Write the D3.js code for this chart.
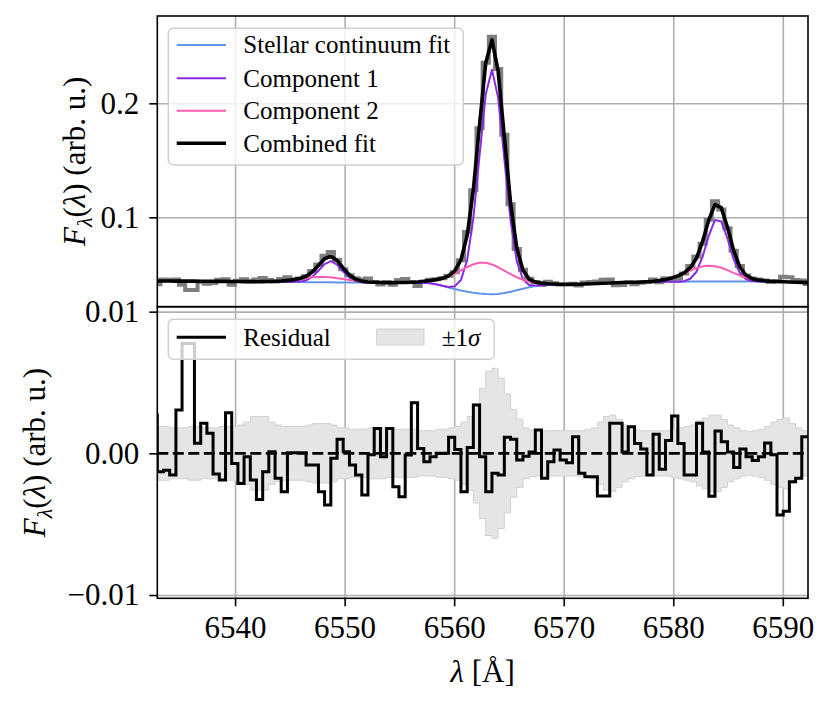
<!DOCTYPE html>
<html>
<head>
<meta charset="utf-8">
<script src="https://cdn.jsdelivr.net/npm/d3@7"></script>
<style>
  body { margin: 0; background: #fff; }
  svg { display: block; font-family: "Liberation Serif", "Times New Roman", serif; }
</style>
</head>
<body>
<div id="chart"></div>
<script>
// wavelength grid of the spectrum (Angstrom)
const lambda = [
  6532.90, 6533.47, 6534.03, 6534.60, 6535.16, 6535.73, 6536.29, 6536.86, 6537.43, 6537.99,
  6538.56, 6539.13, 6539.69, 6540.26, 6540.82, 6541.39, 6541.95, 6542.52, 6543.08, 6543.65,
  6544.21, 6544.78, 6545.35, 6545.91, 6546.48, 6547.04, 6547.61, 6548.17, 6548.74, 6549.31,
  6549.87, 6550.44, 6551.00, 6551.57, 6552.13, 6552.70, 6553.27, 6553.83, 6554.40, 6554.96,
  6555.53, 6556.09, 6556.66, 6557.23, 6557.79, 6558.36, 6558.92, 6559.49, 6560.05, 6560.62,
  6561.19, 6561.75, 6562.32, 6562.88, 6563.45, 6564.01, 6564.58, 6565.15, 6565.71, 6566.28,
  6566.84, 6567.41, 6567.97, 6568.54, 6569.11, 6569.67, 6570.24, 6570.80, 6571.37, 6571.93,
  6572.50, 6573.07, 6573.63, 6574.20, 6574.76, 6575.33, 6575.89, 6576.46, 6577.03, 6577.59,
  6578.16, 6578.72, 6579.29, 6579.85, 6580.42, 6580.99, 6581.55, 6582.12, 6582.68, 6583.25,
  6583.81, 6584.38, 6584.95, 6585.51, 6586.08, 6586.64, 6587.21, 6587.77, 6588.34, 6588.91,
  6589.47, 6590.04, 6590.60, 6591.17, 6591.73, 6592.30
];

// observed spectrum
const flux = [
  0.04128, 0.04539, 0.0453, 0.04553, 0.04094, 0.03624, 0.03624, 0.04319, 0.04178, 0.04249,
  0.04526, 0.04568, 0.04083, 0.04441, 0.04572, 0.04384, 0.04543, 0.04687, 0.04494, 0.04376,
  0.0459, 0.04737, 0.04529, 0.04637, 0.04821, 0.05282, 0.05856, 0.06638, 0.06949, 0.06252,
  0.05436, 0.04926, 0.04649, 0.04555, 0.04627, 0.04318, 0.04108, 0.043, 0.04094, 0.04512,
  0.04592, 0.04317, 0.03973, 0.04351, 0.04514, 0.04558, 0.04651, 0.04867, 0.05185, 0.06239,
  0.0871, 0.12385, 0.17811, 0.23559, 0.25836, 0.23, 0.17236, 0.11143, 0.07224, 0.05401,
  0.04604, 0.04316, 0.04062, 0.04353, 0.04209, 0.04099, 0.04157, 0.0418, 0.04012, 0.04291,
  0.04335, 0.04365, 0.04521, 0.04541, 0.04048, 0.04068, 0.0429, 0.04122, 0.04261, 0.04325,
  0.04537, 0.04313, 0.04648, 0.04587, 0.04604, 0.05062, 0.05731, 0.06566, 0.07682, 0.09788,
  0.1142, 0.10686, 0.09052, 0.07073, 0.05741, 0.04889, 0.04642, 0.04541, 0.04453, 0.04325,
  0.04382, 0.0479, 0.04738, 0.0451, 0.04466, 0.04152
];

// stellar continuum fit
const continuum = [
  0.0441, 0.0441, 0.0441, 0.044, 0.044, 0.044, 0.044, 0.0439, 0.0439, 0.0439,
  0.0438, 0.0438, 0.0437, 0.0437, 0.0436, 0.0436, 0.0435, 0.0435, 0.0434, 0.0434,
  0.0433, 0.0433, 0.0432, 0.0432, 0.0431, 0.0431, 0.043, 0.043, 0.043, 0.0429,
  0.0429, 0.0429, 0.0428, 0.0428, 0.0428, 0.0428, 0.0427, 0.0427, 0.0427, 0.0427,
  0.0427, 0.0427, 0.0426, 0.0425, 0.0421, 0.0412, 0.0399, 0.0385, 0.0371, 0.0358,
  0.0347, 0.0338, 0.0331, 0.0327, 0.0325, 0.0328, 0.0336, 0.0347, 0.036, 0.0373,
  0.0386, 0.0397, 0.0404, 0.0408, 0.041, 0.041, 0.041, 0.0411, 0.0413, 0.0415,
  0.0417, 0.042, 0.0422, 0.0424, 0.0426, 0.0428, 0.043, 0.0431, 0.0432, 0.0433,
  0.0433, 0.0434, 0.0434, 0.0435, 0.0435, 0.0435, 0.0436, 0.0436, 0.0436, 0.0436,
  0.0436, 0.0437, 0.0437, 0.0437, 0.0437, 0.0437, 0.0437, 0.0437, 0.0437, 0.0437,
  0.0436, 0.0435, 0.0433, 0.0431, 0.0429, 0.0427
];

// narrow component (on top of the continuum)
const component1 = [
  0.0441, 0.0441, 0.0441, 0.044, 0.044, 0.044, 0.044, 0.0439, 0.0439, 0.0439,
  0.0438, 0.0438, 0.0437, 0.0437, 0.0436, 0.0436, 0.0435, 0.0435, 0.0434, 0.0434,
  0.0433, 0.0433, 0.0433, 0.0436, 0.04465, 0.04774, 0.0531, 0.059, 0.0615, 0.05844,
  0.0524, 0.0472, 0.0442, 0.0431, 0.0428, 0.0428, 0.0427, 0.0427, 0.0427, 0.0427,
  0.0427, 0.0427, 0.0426, 0.0425, 0.0421, 0.04121, 0.03997, 0.03897, 0.03945, 0.04498,
  0.06267, 0.0993, 0.1545, 0.2079, 0.2295, 0.2052, 0.1512, 0.0971, 0.0618, 0.04561,
  0.04068, 0.04011, 0.04046, 0.0408, 0.041, 0.041, 0.041, 0.0411, 0.0413, 0.0415,
  0.0417, 0.042, 0.0422, 0.0424, 0.0426, 0.0428, 0.043, 0.0431, 0.0432, 0.0433,
  0.0433, 0.0434, 0.0434, 0.0435, 0.04358, 0.04402, 0.0461, 0.05228, 0.06554, 0.08398,
  0.09767, 0.0964, 0.0814, 0.06326, 0.05109, 0.04573, 0.04411, 0.04376, 0.0437, 0.0437,
  0.0436, 0.0435, 0.0433, 0.0431, 0.0429, 0.0427
];

// broad component (on top of the continuum)
const component2 = [
  0.0441, 0.0441, 0.0441, 0.044, 0.044, 0.044, 0.044, 0.0439, 0.0439, 0.0439,
  0.0438, 0.0438, 0.0437, 0.0437, 0.0436, 0.0436, 0.04355, 0.04362, 0.04365, 0.04388,
  0.04414, 0.04466, 0.04524, 0.04602, 0.04671, 0.04736, 0.04764, 0.04767, 0.04734, 0.04663,
  0.04585, 0.04508, 0.04427, 0.04372, 0.04333, 0.04308, 0.04284, 0.04276, 0.0427, 0.04277,
  0.04286, 0.04305, 0.04331, 0.04386, 0.04455, 0.04533, 0.04644, 0.0482, 0.05063, 0.05349,
  0.05642, 0.05877, 0.06012, 0.06015, 0.05865, 0.05619, 0.05323, 0.05016, 0.04743, 0.04523,
  0.04376, 0.04285, 0.04221, 0.04177, 0.04149, 0.04123, 0.0411, 0.04114, 0.0413, 0.0415,
  0.0417, 0.042, 0.0422, 0.0424, 0.0426, 0.0428, 0.043, 0.0431, 0.04331, 0.04355,
  0.04384, 0.04447, 0.04535, 0.04677, 0.04859, 0.0508, 0.05328, 0.05545, 0.057, 0.0576,
  0.0571, 0.05573, 0.05364, 0.05127, 0.04902, 0.04716, 0.04577, 0.04485, 0.04429, 0.04398,
  0.04372, 0.04355, 0.0433, 0.0431, 0.0429, 0.0427
];

// combined fit
const combinedFit = [
  0.0441, 0.0441, 0.0441, 0.044, 0.044, 0.044, 0.044, 0.0439, 0.0439, 0.0439,
  0.0438, 0.0438, 0.0437, 0.0437, 0.0436, 0.0436, 0.04355, 0.04362, 0.04365, 0.04388,
  0.04414, 0.04466, 0.04534, 0.04642, 0.04826, 0.052, 0.05774, 0.06367, 0.06584, 0.06217,
  0.05535, 0.04938, 0.04567, 0.04402, 0.04333, 0.04308, 0.04284, 0.04276, 0.0427, 0.04277,
  0.04286, 0.04305, 0.04331, 0.04386, 0.04455, 0.04534, 0.04651, 0.04867, 0.05298, 0.06267,
  0.08439, 0.12427, 0.18152, 0.23535, 0.25565, 0.22859, 0.17083, 0.11256, 0.07323, 0.05354,
  0.04584, 0.04326, 0.04227, 0.04177, 0.04149, 0.04123, 0.0411, 0.04114, 0.0413, 0.0415,
  0.0417, 0.042, 0.0422, 0.0424, 0.0426, 0.0428, 0.043, 0.0431, 0.04331, 0.04355,
  0.04384, 0.04447, 0.04535, 0.04677, 0.04867, 0.05132, 0.05578, 0.06413, 0.07894, 0.09798,
  0.11117, 0.10843, 0.09134, 0.07083, 0.05641, 0.04919, 0.04618, 0.04491, 0.04429, 0.04398,
  0.04372, 0.04355, 0.0433, 0.0431, 0.0429, 0.0427
];

// residual of the fit
const residual = [
  0.00282, -0.00129, -0.0012, -0.00153, 0.00306, 0.00776, 0.00776, 0.00071, 0.00212, 0.00141,
  -0.00146, -0.00188, 0.00287, -0.00071, -0.00212, -0.00024, -0.00188, -0.00325, -0.00129, 0.00012,
  -0.00176, -0.00271, 0.00005, 0.00005, 0.00005, -0.00082, -0.00082, -0.00271, -0.00365, -0.00035,
  0.00099, 0.00012, -0.00082, -0.00153, -0.00294, -0.0001, 0.00176, -0.00024, 0.00176, -0.00235,
  -0.00306, -0.00012, 0.00358, 0.00035, -0.00059, -0.00024, 0, 0, 0.00113, 0.00028,
  -0.00271, 0.00042, 0.00341, -0.00024, -0.00271, -0.00141, -0.00153, 0.00113, 0.00099, -0.00047,
  -0.0002, 0.0001, 0.00165, -0.00176, -0.0006, 0.00024, -0.00047, -0.00066, 0.00118, -0.00141,
  -0.00165, -0.00165, -0.00301, -0.00301, 0.00212, 0.00212, 0.0001, 0.00188, 0.0007, 0.0003,
  -0.00153, 0.00134, -0.00113, 0.0009, 0.00263, 0.0007, -0.00153, -0.00153, 0.00212, 0.0001,
  -0.00303, 0.00157, 0.00082, 0.0001, -0.001, 0.0003, -0.00024, -0.0005, -0.00024, 0.00073,
  -0.0001, -0.00435, -0.00408, -0.002, -0.00176, 0.00118
];

// 1 sigma uncertainty
const sigma = [
  0.0019, 0.0019, 0.0019, 0.0018, 0.0018, 0.0018, 0.0019, 0.0019, 0.0018, 0.0018,
  0.0018, 0.0019, 0.0019, 0.0019, 0.002, 0.0022, 0.0026, 0.0026, 0.0026, 0.0022,
  0.002, 0.0019, 0.0019, 0.0019, 0.0019, 0.002, 0.0021, 0.0021, 0.0021, 0.002,
  0.0018, 0.0018, 0.0017, 0.0017, 0.0017, 0.0018, 0.0018, 0.0018, 0.0017, 0.0017,
  0.0017, 0.0017, 0.0017, 0.0016, 0.0016, 0.0016, 0.0017, 0.0017, 0.0018, 0.0019,
  0.0022, 0.0026, 0.0035, 0.0046, 0.0058, 0.006, 0.0053, 0.0042, 0.0031, 0.0024,
  0.0018, 0.00165, 0.0016, 0.0016, 0.0016, 0.0016, 0.0016, 0.0016, 0.0016, 0.0016,
  0.0017, 0.0018, 0.0022, 0.0026, 0.0027, 0.0024, 0.002, 0.0018, 0.00165, 0.0016,
  0.0016, 0.0016, 0.0016, 0.0016, 0.0017, 0.0018, 0.0019, 0.002, 0.0023, 0.0025,
  0.0027, 0.0027, 0.0024, 0.002, 0.0018, 0.0016, 0.00155, 0.0016, 0.0017, 0.0019,
  0.0022, 0.0024, 0.0025, 0.0021, 0.0018, 0.0016
];

const xTicks = [6540, 6550, 6560, 6570, 6580, 6590];
const topYTicks = [0.1, 0.2];
const bottomYTicks = [-0.01, 0.0, 0.01];
const topLegendLabels = ["Stellar continuum fit", "Component 1", "Component 2", "Combined fit"];

const width = 831, height = 707;
const plotLeft = 157.3, plotRight = 808;
const topY0 = 16, topY1 = 306.7, botY0 = 306.7, botY1 = 598.3;
const tickFont = 31, labelFont = 31, legendFont = 25;

const colors = {
  data: "#7f7f7f",
  continuum: "#6495ed",
  comp1: "#8a2be2",
  comp2: "#ff5db1",
  combined: "#000000",
  grid: "#b0b0b0"
};

const svg = d3.select("#chart").append("svg")
  .attr("width", width)
  .attr("height", height);

const x = d3.scaleLinear().domain([6532.9, 6592.3]).range([plotLeft, plotRight]);
const yTop = d3.scaleLinear().domain([0.0216, 0.2766]).range([topY1, topY0]);
const yBot = d3.scaleLinear().domain([-0.01023, 0.01035]).range([botY1, botY0]);

const defs = svg.append("defs");
defs.append("clipPath").attr("id", "clipTop").append("rect")
  .attr("x", plotLeft).attr("y", topY0).attr("width", plotRight - plotLeft).attr("height", topY1 - topY0);
defs.append("clipPath").attr("id", "clipBot").append("rect")
  .attr("x", plotLeft).attr("y", botY0).attr("width", plotRight - plotLeft).attr("height", botY1 - botY0);

// grid lines for one panel
function drawGrid(yScale, yTicks, y0, y1, clipId) {
  const g = svg.append("g").attr("clip-path", "url(#" + clipId + ")");
  g.append("g")
    .attr("transform", "translate(0," + y1 + ")")
    .call(d3.axisBottom(x).tickValues(xTicks).tickSize(-(y1 - y0)).tickFormat(""))
    .call(a => a.select(".domain").remove());
  g.append("g")
    .attr("transform", "translate(" + plotLeft + ",0)")
    .call(d3.axisLeft(yScale).tickValues(yTicks).tickSize(-(plotRight - plotLeft)).tickFormat(""))
    .call(a => a.select(".domain").remove());
  g.selectAll("line").attr("stroke", colors.grid).attr("stroke-width", 1.6);
}

drawGrid(yTop, topYTicks, topY0, topY1, "clipTop");
drawGrid(yBot, bottomYTicks, botY0, botY1, "clipBot");

// ---- top panel ----
const topPanel = svg.append("g").attr("clip-path", "url(#clipTop)");

const stepTop = d3.line()
  .x((d, i) => x(lambda[i]))
  .y(d => yTop(d))
  .curve(d3.curveStep);

const lineTop = d3.line()
  .x((d, i) => x(lambda[i]))
  .y(d => yTop(d));

topPanel.append("path").datum(flux)
  .attr("d", stepTop)
  .attr("fill", "none")
  .attr("stroke", colors.data)
  .attr("stroke-width", 4);

[[continuum, colors.continuum, 2], [component1, colors.comp1, 2], [component2, colors.comp2, 2], [combinedFit, colors.combined, 3.6]]
  .forEach(([series, col, w]) => {
    topPanel.append("path").datum(series)
      .attr("d", lineTop)
      .attr("fill", "none")
      .attr("stroke", col)
      .attr("stroke-width", w)
      .attr("stroke-linejoin", "round");
  });

// ---- bottom panel ----
const botPanel = svg.append("g").attr("clip-path", "url(#clipBot)");

const band = d3.area()
  .x((d, i) => x(lambda[i]))
  .y0(d => yBot(-d))
  .y1(d => yBot(d))
  .curve(d3.curveStepBefore);

botPanel.append("path").datum(sigma)
  .attr("d", band)
  .attr("fill", "#e5e5e5")
  .attr("stroke", "#d2d2d2")
  .attr("stroke-width", 1);

botPanel.append("path").datum(residual)
  .attr("d", d3.line().x((d, i) => x(lambda[i])).y(d => yBot(d)).curve(d3.curveStepBefore))
  .attr("fill", "none")
  .attr("stroke", "#000")
  .attr("stroke-width", 3);

botPanel.append("line")
  .attr("x1", plotLeft).attr("x2", plotRight)
  .attr("y1", yBot(0)).attr("y2", yBot(0))
  .attr("stroke", "#000")
  .attr("stroke-width", 2.6)
  .attr("stroke-dasharray", "11,4.5");

// spines
[[topY0, topY1], [botY0, botY1]].forEach(([a, b]) => {
  svg.append("rect")
    .attr("x", plotLeft).attr("y", a)
    .attr("width", plotRight - plotLeft).attr("height", b - a)
    .attr("fill", "none").attr("stroke", "#000").attr("stroke-width", 1.6);
});

// axes with tick labels
function styleAxis(sel) {
  sel.select(".domain").remove();
  sel.selectAll("line").attr("stroke", "#000").attr("stroke-width", 1.6);
  sel.selectAll("text")
    .attr("fill", "#000")
    .style("font-family", '"Liberation Serif", "Times New Roman", serif')
    .style("font-size", tickFont + "px");
}

svg.append("g")
  .attr("transform", "translate(0," + botY1 + ")")
  .call(d3.axisBottom(x).tickValues(xTicks).tickSize(8).tickPadding(10).tickFormat(d3.format("d")))
  .call(styleAxis);

svg.append("g")
  .attr("transform", "translate(" + plotLeft + ",0)")
  .call(d3.axisLeft(yTop).tickValues(topYTicks).tickSize(8).tickPadding(10).tickFormat(d3.format(".1f")))
  .call(styleAxis);

svg.append("g")
  .attr("transform", "translate(" + plotLeft + ",0)")
  .call(d3.axisLeft(yBot).tickValues(bottomYTicks).tickSize(8).tickPadding(10).tickFormat(d3.format(".2f")))
  .call(styleAxis);

// axis labels
function fluxLabel(cx, cy) {
  const t = svg.append("text")
    .attr("transform", "translate(" + cx + "," + cy + ") rotate(-90)")
    .attr("text-anchor", "middle")
    .attr("dy", "0.35em")
    .style("font-size", labelFont + "px");
  t.append("tspan").style("font-style", "italic").text("F");
  t.append("tspan").style("font-style", "italic").style("font-size", "22px").attr("dy", 7).text("λ");
  t.append("tspan").attr("dy", -7).text("(");
  t.append("tspan").style("font-style", "italic").text("λ");
  t.append("tspan").text(") (arb. u.)");
}
fluxLabel(74, (topY0 + topY1) / 2);
fluxLabel(34, (botY0 + botY1) / 2);

const xl = svg.append("text")
  .attr("x", (plotLeft + plotRight) / 2)
  .attr("y", 682)
  .attr("text-anchor", "middle")
  .style("font-size", labelFont + "px");
xl.append("tspan").style("font-style", "italic").text("λ");
xl.append("tspan").text(" [Å]");

// ---- legends ----
const legTop = svg.append("g");
legTop.append("rect")
  .attr("x", 168.3).attr("y", 28.3).attr("width", 295).attr("height", 136.7)
  .attr("rx", 5).attr("ry", 5)
  .attr("fill", "#fff").attr("fill-opacity", 0.8)
  .attr("stroke", "#d0d0d0").attr("stroke-width", 1.5);

const legendRows = [45, 78.3, 110.7, 143.3];
const legendStyles = [[colors.continuum, 2], [colors.comp1, 2], [colors.comp2, 2], [colors.combined, 3.6]];
topLegendLabels.forEach((label, i) => {
  legTop.append("line")
    .attr("x1", 176.7).attr("x2", 226)
    .attr("y1", legendRows[i]).attr("y2", legendRows[i])
    .attr("stroke", legendStyles[i][0]).attr("stroke-width", legendStyles[i][1]);
  legTop.append("text")
    .attr("x", 243.3).attr("y", legendRows[i])
    .attr("dy", "0.33em")
    .style("font-size", legendFont + "px")
    .text(label);
});

const legBot = svg.append("g");
legBot.append("rect")
  .attr("x", 168.3).attr("y", 319.3).attr("width", 326).attr("height", 40)
  .attr("rx", 5).attr("ry", 5)
  .attr("fill", "#fff").attr("fill-opacity", 0.8)
  .attr("stroke", "#d0d0d0").attr("stroke-width", 1.5);
legBot.append("line")
  .attr("x1", 176.7).attr("x2", 226).attr("y1", 337.3).attr("y2", 337.3)
  .attr("stroke", "#000").attr("stroke-width", 3);
legBot.append("text")
  .attr("x", 243.3).attr("y", 338).attr("dy", "0.33em")
  .style("font-size", legendFont + "px")
  .text("Residual");
legBot.append("rect")
  .attr("x", 376.7).attr("y", 329).attr("width", 47.3).attr("height", 16)
  .attr("fill", "#e5e5e5").attr("stroke", "#d2d2d2").attr("stroke-width", 1);
const sig = legBot.append("text")
  .attr("x", 441.7).attr("y", 338).attr("dy", "0.33em")
  .style("font-size", legendFont + "px");
sig.append("tspan").text("±1");
sig.append("tspan").style("font-style", "italic").text("σ");
</script>
</body>
</html>
